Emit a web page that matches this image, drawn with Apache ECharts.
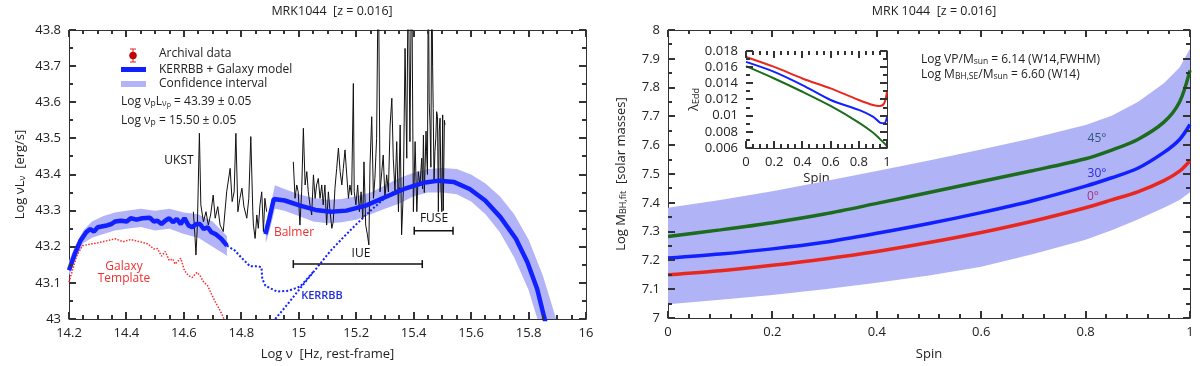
<!DOCTYPE html>
<html>
<head>
<meta charset="utf-8">
<title>MRK1044 SED and BH mass</title>
<script src="https://cdn.jsdelivr.net/npm/echarts@6/dist/echarts.min.js"></script>
<style>
    html,body{margin:0;padding:0;background:#fff;}
    #main{width:1200px;height:366px;}
</style>
</head>
<body>
<div id="main"></div>
<script>
    var FONT = 'Open Sans';
    var BLUE = '#1020ff', BAND = '#b3b4f7', RED = '#e8281e', GREEN = '#1d6b1d';

    // ---------- left panel: SED ----------
    // KERRBB + galaxy model (optical part and UV part)
    var modelOptX = [14.2,14.22,14.24,14.26,14.274,14.287,14.3,14.327,14.348,14.361,14.381,14.401,14.415,14.435,14.455,14.482,14.495,14.508,14.522,14.535,14.549,14.562,14.575,14.589,14.602,14.616,14.629,14.643,14.656,14.669,14.683,14.696,14.71,14.73,14.75];
    var modelOptY = [43.135,43.18,43.217,43.24,43.249,43.242,43.254,43.258,43.263,43.27,43.272,43.27,43.279,43.275,43.279,43.28,43.27,43.272,43.263,43.272,43.279,43.268,43.277,43.263,43.279,43.259,43.254,43.263,43.263,43.249,43.254,43.24,43.235,43.222,43.203];
    var modelUvX = [14.884,14.897,14.913,14.917,14.951,15.005,15.058,15.112,15.166,15.233,15.3,15.367,15.434,15.488,15.541,15.595,15.649,15.702,15.756,15.796,15.83,15.856,15.87];
    var modelUvY = [43.235,43.277,43.332,43.337,43.328,43.314,43.302,43.297,43.3,43.314,43.337,43.36,43.377,43.383,43.379,43.36,43.328,43.282,43.222,43.157,43.083,43.0,42.95];

    // confidence interval
    var bandOptX  = [14.2,14.22,14.25,14.28,14.32,14.36,14.4,14.45,14.5,14.55,14.6,14.65,14.7,14.75];
    var bandOptHi = [43.16,43.2,43.245,43.27,43.285,43.295,43.3,43.305,43.3,43.305,43.295,43.29,43.27,43.23];
    var bandOptLo = [43.12,43.16,43.21,43.225,43.235,43.245,43.25,43.255,43.245,43.25,43.235,43.225,43.2,43.175];
    var bandUvX  = [14.885,14.9,14.917,14.95,15.0,15.05,15.1,15.15,15.2,15.25,15.3,15.35,15.4,15.45,15.5,15.55,15.6,15.65,15.7,15.75,15.8,15.85,15.9];
    var bandUvHi = [43.26,43.31,43.37,43.36,43.345,43.335,43.33,43.332,43.34,43.35,43.37,43.39,43.405,43.415,43.418,43.415,43.4,43.375,43.34,43.29,43.22,43.12,42.99];
    var bandUvLo = [43.21,43.25,43.305,43.3,43.285,43.27,43.265,43.268,43.275,43.29,43.305,43.32,43.34,43.35,43.35,43.345,43.325,43.29,43.24,43.17,43.08,42.95,42.9];

    // dotted components
    var dotX = [14.75,14.777,14.80,14.83,14.857,14.87,14.873,14.884,14.924,14.964,15.005,15.05];
    var dotY = [43.203,43.19,43.17,43.146,43.146,43.143,43.111,43.092,43.076,43.078,43.09,43.13];
    var kerrX = [14.918,14.96,15.0,15.052,15.112,15.16,15.2,15.25,15.3,15.33,15.36];
    var kerrY = [43.0,43.04,43.08,43.131,43.19,43.23,43.262,43.3,43.335,43.352,43.365];
    var galX = [14.2,14.227,14.247,14.28,14.307,14.361,14.388,14.415,14.455,14.475,14.495,14.508,14.522,14.535,14.549,14.562,14.569,14.589,14.602,14.616,14.629,14.645,14.656,14.669,14.683,14.696,14.71,14.723,14.736,14.745];
    var galY = [43.102,43.175,43.203,43.208,43.212,43.222,43.214,43.22,43.212,43.208,43.194,43.195,43.174,43.187,43.162,43.166,43.152,43.168,43.134,43.12,43.115,43.129,43.12,43.102,43.092,43.069,43.046,43.028,43.007,42.99];

    // archival spectrum (UKST optical, then IUE + FUSE)
    var specOptX = [14.633,14.639,14.642,14.647,14.654,14.659,14.668,14.677,14.685,14.693,14.702,14.709,14.718,14.726,14.737,14.749,14.761,14.768,14.775,14.781,14.788,14.795,14.802,14.809,14.819,14.826,14.833,14.84,14.842,14.848,14.854,14.859,14.865,14.871,14.877,14.882,14.888];
    var specOptY = [43.297,43.223,43.177,43.26,43.514,43.316,43.269,43.297,43.26,43.288,43.343,43.279,43.311,43.26,43.242,43.352,43.417,43.325,43.352,43.514,43.297,43.334,43.362,43.311,43.279,43.334,43.505,43.297,43.26,43.223,43.288,43.251,43.316,43.352,43.242,43.334,43.297];
    var specUvX = [14.981,14.987,14.993,14.998,15.004,15.01,15.016,15.022,15.028,15.033,15.039,15.045,15.051,15.057,15.062,15.068,15.074,15.08,15.085,15.091,15.097,15.103,15.109,15.115,15.12,15.126,15.132,15.138,15.144,15.15,15.155,15.161,15.167,15.173,15.178,15.184,15.19,15.193,15.199,15.205,15.211,15.217,15.223,15.227,15.233,15.239,15.244,15.248,15.254,15.26,15.265,15.271,15.277,15.283,15.289,15.294,15.3,15.306,15.312,15.318,15.324,15.329,15.335,15.341,15.347,15.353,15.358,15.364,15.37,15.376,15.381,15.387,15.393,15.399,15.405,15.411,15.416,15.422,15.428,15.431,15.434,15.437,15.44,15.443,15.445,15.448,15.451,15.454,15.457,15.46,15.463,15.466,15.468,15.471,15.474,15.477,15.48,15.483,15.486,15.489,15.492,15.495,15.498,15.501,15.503,15.506,15.507,15.509];
    var specUvY = [43.435,43.334,43.371,43.352,43.26,43.352,43.528,43.371,43.408,43.352,43.316,43.288,43.399,43.334,43.371,43.389,43.334,43.371,43.316,43.371,43.26,43.352,43.297,43.251,43.269,43.362,43.417,43.473,43.408,43.371,43.417,43.468,43.399,43.334,43.371,43.343,43.652,43.352,43.316,43.371,43.297,43.352,43.279,43.435,43.26,43.233,43.205,43.426,43.56,43.334,43.389,43.5,44.0,43.352,43.408,43.454,43.334,43.399,43.352,43.537,43.611,43.445,43.352,43.491,43.297,43.537,43.233,43.352,43.749,43.445,44.0,43.491,44.0,43.297,43.491,43.297,43.408,43.371,43.445,43.36,43.509,43.35,43.426,43.52,43.463,43.40,44.0,43.60,43.537,43.42,44.0,43.70,43.583,43.38,43.463,43.50,43.574,43.56,43.297,43.52,43.556,43.36,43.297,43.565,43.30,43.297,43.55,43.537];

    // instrument ranges: [from, to, level]
    var rangeBars = [[14.981, 15.43, 43.152], [15.402, 15.537, 43.244]];

    // ---------- right panel: BH mass vs spin ----------
    var spin = [0,0.1,0.2,0.3,0.4,0.5,0.6,0.7,0.8,0.85,0.9,0.95,0.98,1];
    var mass45 = [7.283,7.306,7.331,7.361,7.398,7.436,7.474,7.512,7.553,7.583,7.62,7.68,7.75,7.86];
    var mass30 = [7.208,7.222,7.24,7.263,7.294,7.328,7.366,7.408,7.458,7.487,7.52,7.575,7.62,7.672];
    var mass0  = [7.15,7.164,7.183,7.205,7.231,7.262,7.297,7.337,7.383,7.41,7.438,7.477,7.51,7.546];
    var massHi = [7.383,7.41,7.44,7.475,7.51,7.547,7.585,7.625,7.67,7.702,7.75,7.815,7.87,7.935];
    var massLo = [7.048,7.063,7.08,7.1,7.122,7.148,7.178,7.222,7.272,7.305,7.342,7.383,7.41,7.437];

    // inset: Eddington ratio vs spin
    var insetSpin = [0,0.2,0.4,0.6,0.8,0.9,0.95,0.98,1];
    var lam0  = [0.01726,0.01603,0.0146,0.01337,0.01194,0.01132,0.0112,0.01153,0.01296];
    var lam30 = [0.01665,0.01542,0.01378,0.01194,0.01071,0.00989,0.00915,0.00907,0.00981];
    var lam45 = [0.01612,0.0146,0.01296,0.0112,0.00915,0.00792,0.0071,0.0066,0.0062];

    function pairs(xs, ys) {
        return xs.map(function (x, i) { return [x, ys[i]]; });
    }
    function steps(a, b, s) {
        var out = [], n = Math.round((b - a) / s);
        for (var i = 0; i <= n; i++) out.push(+(a + i * s).toFixed(6));
        return out;
    }

    // polygon between lo and hi, clipped to the grid
    function bandRender(xs, lo, hi, color) {
        return function (params, api) {
            var pts = [], i;
            for (i = 0; i < xs.length; i++) pts.push(api.coord([xs[i], hi[i]]));
            for (i = xs.length - 1; i >= 0; i--) pts.push(api.coord([xs[i], lo[i]]));
            var cs = params.coordSys;
            return {
                type: 'polygon', shape: {points: pts}, style: {fill: color},
                clipPath: {type: 'rect', shape: {x: cs.x, y: cs.y, width: cs.width, height: cs.height}}
            };
        };
    }

    var axisColor = '#333';
    var subStyle = {fontSize: 9, fontFamily: FONT, verticalAlign: 'bottom'};
    function axis(grid, min, max, interval, position, showLabel, name, nameGap) {
        return {
            type: 'value', gridIndex: grid, min: min, max: max, interval: interval, position: position,
            name: name || '', nameLocation: 'middle', nameGap: nameGap || 0,
            nameTextStyle: {color: '#222', fontSize: 13, fontFamily: FONT, rich: {s: subStyle}},
            axisLine: {show: true, onZero: false, lineStyle: {color: axisColor, width: 1}},
            axisTick: {show: false},
            splitLine: {show: false},
            axisLabel: {show: showLabel, color: '#222', fontSize: 13, fontFamily: FONT, margin: 8}
        };
    }

    var txtFont = '12px "' + FONT + '"';
    function label(x, y, text, color, extra) {
        var st = {text: text, x: 0, y: 0, font: txtFont, fill: color || '#222', align: 'center', verticalAlign: 'middle',
            rich: {s: {fontSize: 8.5, fontFamily: FONT, verticalAlign: 'bottom'}, t: {fontSize: 7, fontFamily: FONT, verticalAlign: 'bottom'}}};
        if (extra) for (var k in extra) st[k] = extra[k];
        return {type: 'text', x: x, y: y, style: st, z: 50};
    }

    var chart = echarts.init(document.getElementById('main'), null, {renderer: 'canvas'});
    var option = {
        animation: false,
        backgroundColor: '#fff',
        title: [
            {text: 'MRK1044  [z = 0.016]', left: 327, top: 0, textAlign: 'center',
                textStyle: {fontSize: 12.5, fontWeight: 'normal', color: '#222', fontFamily: FONT}},
            {text: 'MRK 1044  [z = 0.016]', left: 929, top: 0, textAlign: 'center',
                textStyle: {fontSize: 12.5, fontWeight: 'normal', color: '#222', fontFamily: FONT}}
        ],
        grid: [
            {left: 69, top: 30, width: 517, height: 289},
            {left: 668, top: 30, width: 522, height: 290},
            {left: 746, top: 51, width: 141, height: 97, show: true, backgroundColor: '#fff', borderWidth: 0, z: 5}
        ],
        xAxis: [
            axis(0, 14.2, 16, 0.2, 'bottom', true, 'Log ν  [Hz, rest-frame]', 29),
            axis(0, 14.2, 16, 0.2, 'top', false),
            axis(1, 0, 1, 0.2, 'bottom', true, 'Spin', 30),
            axis(1, 0, 1, 0.2, 'top', false),
            axis(2, 0, 1, 0.2, 'bottom', true, 'Spin', 24),
            axis(2, 0, 1, 0.2, 'top', false)
        ],
        yAxis: [
            axis(0, 43, 43.8, 0.1, 'left', true, 'Log νL{s|ν}  [erg/s]', 42),
            axis(0, 43, 43.8, 0.1, 'right', false),
            axis(1, 7, 8, 0.1, 'left', true, 'Log M{s|BH,fit}  [solar masses]', 40),
            axis(1, 7, 8, 0.1, 'right', false),
            axis(2, 0.006, 0.018, 0.002, 'left', true, 'λ{s|Edd}', 44),
            axis(2, 0.006, 0.018, 0.002, 'right', false)
        ],
        series: [
            // left panel
            {type: 'custom', xAxisIndex: 0, yAxisIndex: 0, silent: true, z: 1, data: [[14.2, 43.1]],
                renderItem: bandRender(bandOptX, bandOptLo, bandOptHi, BAND)},
            {type: 'custom', xAxisIndex: 0, yAxisIndex: 0, silent: true, z: 1, data: [[15, 43.3]],
                renderItem: bandRender(bandUvX, bandUvLo, bandUvHi, BAND)},
            {type: 'line', xAxisIndex: 0, yAxisIndex: 0, data: pairs(galX, galY), symbol: 'none', z: 2,
                lineStyle: {color: '#ff2a2a', width: 1.5, type: 'dotted'}},
            {type: 'line', xAxisIndex: 0, yAxisIndex: 0, data: pairs(dotX, dotY), symbol: 'none', z: 2,
                lineStyle: {color: BLUE, width: 2, type: 'dotted'}},
            {type: 'line', xAxisIndex: 0, yAxisIndex: 0, data: pairs(kerrX, kerrY), symbol: 'none', z: 2,
                lineStyle: {color: BLUE, width: 2, type: 'dotted'}},
            {type: 'line', xAxisIndex: 0, yAxisIndex: 0, data: pairs(specOptX, specOptY), symbol: 'none', z: 3,
                lineStyle: {color: '#111', width: 1}},
            {type: 'line', xAxisIndex: 0, yAxisIndex: 0, data: pairs(specUvX, specUvY), symbol: 'none', z: 3,
                lineStyle: {color: '#111', width: 1}},
            {type: 'line', xAxisIndex: 0, yAxisIndex: 0, data: pairs(modelOptX, modelOptY), symbol: 'none', z: 4,
                lineStyle: {color: BLUE, width: 4.5}},
            {type: 'line', xAxisIndex: 0, yAxisIndex: 0, data: pairs(modelUvX, modelUvY), symbol: 'none', z: 4,
                lineStyle: {color: BLUE, width: 4.5}},
            {type: 'custom', xAxisIndex: 0, yAxisIndex: 0, silent: true, z: 5, data: rangeBars,
                encode: {x: [0, 1], y: 2},
                renderItem: function (params, api) {
                    var a = api.coord([api.value(0), api.value(2)]);
                    var b = api.coord([api.value(1), api.value(2)]);
                    var st = {stroke: '#111', lineWidth: 1.5};
                    return {type: 'group', children: [
                        {type: 'line', shape: {x1: a[0], y1: a[1], x2: b[0], y2: b[1]}, style: st},
                        {type: 'line', shape: {x1: a[0], y1: a[1] - 4, x2: a[0], y2: a[1] + 4}, style: st},
                        {type: 'line', shape: {x1: b[0], y1: b[1] - 4, x2: b[0], y2: b[1] + 4}, style: st}
                    ]};
                }},
            // right panel
            {type: 'custom', xAxisIndex: 2, yAxisIndex: 2, silent: true, z: 1, data: [[0, 7.2]],
                renderItem: bandRender(spin, massLo, massHi, '#b1b3f7')},
            {type: 'line', xAxisIndex: 2, yAxisIndex: 2, data: pairs(spin, mass45), symbol: 'none', smooth: 0.3, z: 3,
                lineStyle: {color: GREEN, width: 3.5}},
            {type: 'line', xAxisIndex: 2, yAxisIndex: 2, data: pairs(spin, mass30), symbol: 'none', smooth: 0.3, z: 3,
                lineStyle: {color: BLUE, width: 3.5}},
            {type: 'line', xAxisIndex: 2, yAxisIndex: 2, data: pairs(spin, mass0), symbol: 'none', smooth: 0.3, z: 3,
                lineStyle: {color: RED, width: 3.5}},
            // inset
            {type: 'line', xAxisIndex: 4, yAxisIndex: 4, data: pairs(insetSpin, lam0), symbol: 'none', smooth: 0.3, z: 10,
                lineStyle: {color: RED, width: 2}},
            {type: 'line', xAxisIndex: 4, yAxisIndex: 4, data: pairs(insetSpin, lam30), symbol: 'none', smooth: 0.3, z: 10,
                lineStyle: {color: BLUE, width: 2}},
            {type: 'line', xAxisIndex: 4, yAxisIndex: 4, data: pairs(insetSpin, lam45), symbol: 'none', smooth: 0.3, z: 10,
                lineStyle: {color: GREEN, width: 2}}
        ]
    };
    chart.setOption(option);

    // inward ticks on all four sides of each frame, placed with the chart's own scales
    function frameTicks(grid, xr, yr, xMaj, xMin, yMaj, yMin) {
        var p0 = chart.convertToPixel({gridIndex: grid}, [xr[0], yr[0]]);
        var p1 = chart.convertToPixel({gridIndex: grid}, [xr[1], yr[1]]);
        var lft = p0[0], bot = p0[1], rgt = p1[0], top = p1[1], out = [];
        var st = {stroke: '#333', lineWidth: 2};
        function seg(x1, y1, x2, y2) {
            out.push({type: 'line', silent: true, z: 40, shape: {x1: x1, y1: y1, x2: x2, y2: y2}, style: st});
        }
        function vx(v, len) {
            var x = Math.round(chart.convertToPixel({gridIndex: grid}, [v, yr[0]])[0]);
            seg(x, bot, x, bot - len);
            seg(x, top, x, top + len);
        }
        function vy(v, len) {
            var y = Math.round(chart.convertToPixel({gridIndex: grid}, [xr[0], v])[1]);
            seg(lft, y, lft + len, y);
            seg(rgt, y, rgt - len, y);
        }
        xMin.forEach(function (v) { vx(v, 4); });
        xMaj.forEach(function (v) { vx(v, 7); });
        yMin.forEach(function (v) { vy(v, 4); });
        yMaj.forEach(function (v) { vy(v, 7); });
        return out;
    }

    var graphics = [
        // legend
        {type: 'line', shape: {x1: 133, y1: 49, x2: 133, y2: 62}, style: {stroke: '#e02020', lineWidth: 1}, z: 50},
        {type: 'line', shape: {x1: 130, y1: 49, x2: 136, y2: 49}, style: {stroke: '#e02020', lineWidth: 1}, z: 50},
        {type: 'line', shape: {x1: 130, y1: 62, x2: 136, y2: 62}, style: {stroke: '#e02020', lineWidth: 1}, z: 50},
        {type: 'circle', shape: {cx: 133, cy: 55.5, r: 3.5}, style: {fill: '#d00000', stroke: '#700', lineWidth: 0.5}, z: 51},
        {type: 'line', shape: {x1: 121, y1: 69.5, x2: 146, y2: 69.5}, style: {stroke: BLUE, lineWidth: 5}, z: 50},
        {type: 'line', shape: {x1: 121, y1: 84, x2: 146, y2: 84}, style: {stroke: BAND, lineWidth: 6}, z: 50},
        label(159, 54, 'Archival data', '#222', {align: 'left'}),
        label(159, 70, 'KERRBB + Galaxy model', '#222', {align: 'left'}),
        label(159, 84, 'Confidence interval', '#222', {align: 'left'}),
        label(121, 102, 'Log ν{s|p}L{s|ν}{t|p} = 43.39 ± 0.05', '#222', {align: 'left'}),
        label(121, 121, 'Log ν{s|p} = 15.50 ± 0.05', '#222', {align: 'left'}),
        // left annotations
        label(179, 161, 'UKST', '#111'),
        label(294, 233, 'Balmer', '#ee3030'),
        label(124, 267, 'Galaxy', '#ee3030'),
        label(124, 279, 'Template', '#ee3030'),
        label(322, 296, 'KERRBB', '#2030d8', {font: '600 11px "' + FONT + '"'}),
        label(361, 254, 'IUE', '#111'),
        label(434, 219, 'FUSE', '#111'),
        // right annotations
        label(921, 60, 'Log VP/M{s|sun} = 6.14 (W14,FWHM)', '#222', {align: 'left'}),
        label(921, 75, 'Log M{s|BH,SE}/M{s|sun} = 6.60 (W14)', '#222', {align: 'left'}),
        label(1097, 139, '45°', '#2c5a78'),
        label(1097, 174, '30°', '#2a2ae0'),
        label(1093, 197, '0°', '#a8307a')
    ].concat(
        frameTicks(0, [14.2, 16], [43, 43.8], steps(14.2, 16, 0.2), steps(14.2, 16, 0.05), steps(43, 43.8, 0.1), steps(43, 43.8, 0.05)),
        frameTicks(1, [0, 1], [7, 8], steps(0, 1, 0.2), steps(0, 1, 0.04), steps(7, 8, 0.1), steps(7, 8, 0.05)),
        frameTicks(2, [0, 1], [0.006, 0.018], steps(0, 1, 0.2), steps(0, 1, 0.05), steps(0.006, 0.018, 0.002), steps(0.006, 0.018, 0.001))
    );
    chart.setOption({graphic: graphics});
</script>
</body>
</html>
